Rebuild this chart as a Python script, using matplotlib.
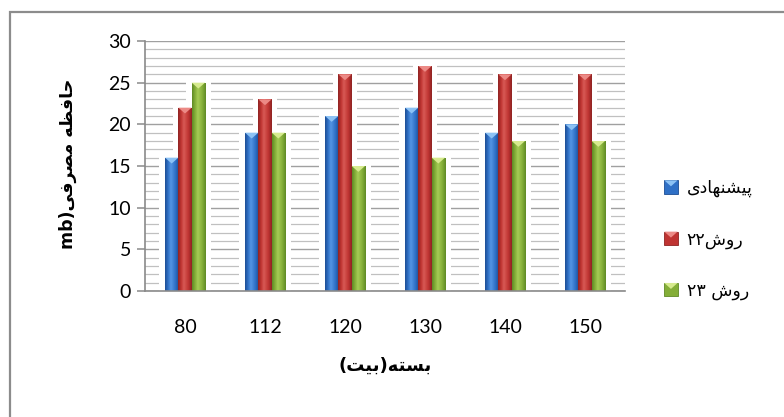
import matplotlib
matplotlib.use("Agg")
import matplotlib.pyplot as plt
import numpy as np
from matplotlib.patches import Polygon, Rectangle
from matplotlib.legend_handler import HandlerBase
from matplotlib.colors import to_rgb

# ---- data -------------------------------------------------------------
categories = ["80", "112", "120", "130", "140", "150"]
series_names = ["پیشنهادی", "روش۲۲", "روش ۲۳"]
proposed = [16, 19, 21, 22, 19, 20]
method22 = [22, 23, 26, 27, 26, 26]
method23 = [25, 19, 15, 16, 18, 18]
y_ticks = [0, 5, 10, 15, 20, 25, 30]
x_title = "بسته(بیت)"
y_title = "حافظه مصرفی(mb"

# ---- minimal Arabic-script shaping / visual ordering -------------------
# (isolated, final, initial, medial); None = letter does not join forward
FORMS = {
    "ا": ("\uFE8D", "\uFE8E", None, None),
    "ب": ("\uFE8F", "\uFE90", "\uFE91", "\uFE92"),
    "پ": ("\uFB56", "\uFB57", "\uFB58", "\uFB59"),
    "ت": ("\uFE95", "\uFE96", "\uFE97", "\uFE98"),
    "ح": ("\uFEA1", "\uFEA2", "\uFEA3", "\uFEA4"),
    "د": ("\uFEA9", "\uFEAA", None, None),
    "ر": ("\uFEAD", "\uFEAE", None, None),
    "س": ("\uFEB1", "\uFEB2", "\uFEB3", "\uFEB4"),
    "ش": ("\uFEB5", "\uFEB6", "\uFEB7", "\uFEB8"),
    "ص": ("\uFEB9", "\uFEBA", "\uFEBB", "\uFEBC"),
    "ظ": ("\uFEC5", "\uFEC6", "\uFEC7", "\uFEC8"),
    "ف": ("\uFED1", "\uFED2", "\uFED3", "\uFED4"),
    "م": ("\uFEE1", "\uFEE2", "\uFEE3", "\uFEE4"),
    "ن": ("\uFEE5", "\uFEE6", "\uFEE7", "\uFEE8"),
    "ه": ("\uFEE9", "\uFEEA", "\uFEEB", "\uFEEC"),
    "و": ("\uFEED", "\uFEEE", None, None),
    "ی": ("\uFBFC", "\uFBFD", "\uFBFE", "\uFBFF"),
}
MIRROR = {"(": ")", ")": "("}


def shape(text):
    out = []
    for i, c in enumerate(text):
        if c not in FORMS:
            out.append(c)
            continue
        iso, fin, ini, med = FORMS[c]
        prev = text[i - 1] if i > 0 else None
        nxt = text[i + 1] if i + 1 < len(text) else None
        jp = prev in FORMS and FORMS[prev][2] is not None
        jn = ini is not None and nxt in FORMS
        out.append(med if (jp and jn) else fin if jp else ini if jn else iso)
    return "".join(out)


def is_ltr(c):
    return c.isascii() and c.isalnum() or "\u06F0" <= c <= "\u06F9"


def visual(text):
    # split into LTR / RTL runs, lay them out right-to-left
    runs, cur, cur_ltr = [], "", None
    for c in text:
        ltr = is_ltr(c)
        if cur and ltr != cur_ltr:
            runs.append((cur, cur_ltr))
            cur = ""
        cur += c
        cur_ltr = ltr
    if cur:
        runs.append((cur, cur_ltr))
    parts = []
    for s, ltr in reversed(runs):
        if ltr:
            parts.append(s)
        else:
            parts.append("".join(MIRROR.get(c, c) for c in reversed(shape(s))))
    return "".join(parts)


# ---- styling ------------------------------------------------------------
palettes = [
    dict(dark="#1d4d94", mid="#2f70c6", light="#5596e4", cap="#8cc2f5"),
    dict(dark="#8e2322", mid="#bf3432", light="#d85a55", cap="#ec8a86"),
    dict(dark="#5f8a25", mid="#84ae38", light="#a6cc56", cap="#d6ea8e"),
]
grid_minor = "#c0c0c0"
grid_major = "#a0a0a0"
axis_gray = "#8a8a8a"
num_font = "Lato"
ar_font = ["DejaVu Sans"]

W, H, DPI = 784, 417, 100
fig = plt.figure(figsize=(W / DPI, H / DPI), dpi=DPI)
fig.patch.set_facecolor("white")

ax = fig.add_axes([145 / W, 1 - 291 / H, 480 / W, 250 / H])
ax.set_xlim(-0.5, len(categories) - 0.5)
ax.set_ylim(0, 30)

# gridlines: minor every unit, major every five
for yv in range(0, 31):
    ax.axhline(yv, color=grid_major if yv % 5 == 0 else grid_minor,
               lw=1.0 if yv % 5 == 0 else 0.9, zorder=0.5)

bw = 1 / 6
x = np.arange(len(categories))
series = [proposed, method22, method23]


def gradient_rgb(pal, n=64):
    stops = [(0.0, pal["dark"]), (0.22, pal["mid"]), (0.42, pal["light"]),
             (0.75, pal["mid"]), (1.0, pal["dark"])]
    ts = np.linspace(0, 1, n)
    pos = [s[0] for s in stops]
    cols = np.array([to_rgb(s[1]) for s in stops])
    return np.stack([np.interp(ts, pos, cols[:, k]) for k in range(3)], axis=-1)[None, :, :]


cap_h = 0.7
for si, (vals, pal) in enumerate(zip(series, palettes)):
    offs = (si - 1) * bw
    # soft white halo behind each bar
    ax.bar(x + offs, [v + 0.3 for v in vals], width=bw + 0.14, color="white",
           zorder=1, linewidth=0)
    bars = ax.bar(x + offs, vals, width=bw, color=pal["mid"], zorder=2,
                  linewidth=0)
    grad = gradient_rgb(pal)
    for b in bars:
        x0, w, h = b.get_x(), b.get_width(), b.get_height()
        im = ax.imshow(grad, extent=[x0, x0 + w, 0, h], aspect="auto",
                       interpolation="bilinear", zorder=2.5)
        im.set_clip_path(b)
        tri = Polygon([(x0, h), (x0 + w, h), (x0 + w / 2, h - cap_h)],
                      closed=True, facecolor=pal["cap"], edgecolor="none",
                      zorder=3)
        ax.add_patch(tri)

ax.set_xlim(-0.5, len(categories) - 0.5)
ax.set_ylim(0, 30)

for side in ("top", "right"):
    ax.spines[side].set_visible(False)
for side in ("left", "bottom"):
    ax.spines[side].set_color(axis_gray)
    ax.spines[side].set_linewidth(1.2)
ax.spines["left"].set_zorder(4)

ax.set_yticks(y_ticks)
ax.set_yticklabels([str(t) for t in y_ticks], fontfamily=num_font, fontsize=14)
ax.tick_params(axis="y", length=6, width=1.1, color=axis_gray, pad=4)
ax.set_xticks(x)
ax.set_xticklabels(categories, fontfamily=num_font, fontsize=14)
ax.tick_params(axis="x", length=0, pad=20)

fig.text(385 / W, 1 - 366 / H, visual(x_title), family=ar_font,
         fontweight="bold", fontsize=13, ha="center", va="center")
fig.text(68 / W, 1 - 164 / H, visual(y_title), family=ar_font,
         fontweight="bold", fontsize=12.5, ha="center", va="center",
         rotation=90)


# legend keys: bevelled squares
class BevelSquare(HandlerBase):
    def __init__(self, pal):
        super().__init__()
        self.pal = pal

    def create_artists(self, legend, orig_handle, xdescent, ydescent,
                       width, height, fontsize, trans):
        s = min(width, height)
        x0 = -xdescent + (width - s) / 2
        y0 = -ydescent + (height - s) / 2
        sq = Rectangle((x0, y0), s, s, facecolor=self.pal["mid"],
                       edgecolor=self.pal["dark"], lw=0.6, transform=trans)
        tri = Polygon([(x0, y0 + s), (x0 + s, y0 + s), (x0 + s / 2, y0 + s * 0.55)],
                      closed=True, facecolor=self.pal["cap"], edgecolor="none",
                      transform=trans)
        return [sq, tri]


handles = [Rectangle((0, 0), 1, 1) for _ in palettes]
leg = fig.legend(handles, [visual(n) for n in series_names],
                 handler_map={h: BevelSquare(p) for h, p in zip(handles, palettes)},
                 loc="upper left", bbox_to_anchor=(664 / W, 1 - 179 / H),
                 frameon=False, prop={"family": ar_font, "size": 12.5},
                 handlelength=0.8, handleheight=0.8, handletextpad=0.5,
                 labelspacing=1.9, borderpad=0, borderaxespad=0)

# chart frame
fig.add_artist(Rectangle((9.5 / W, -0.05), 1.2, 1 - 11.5 / H + 0.05,
                         transform=fig.transFigure, fill=False,
                         edgecolor="#8c8c8c", lw=1.6))

fig.savefig("out.png", dpi=DPI, facecolor="white")
